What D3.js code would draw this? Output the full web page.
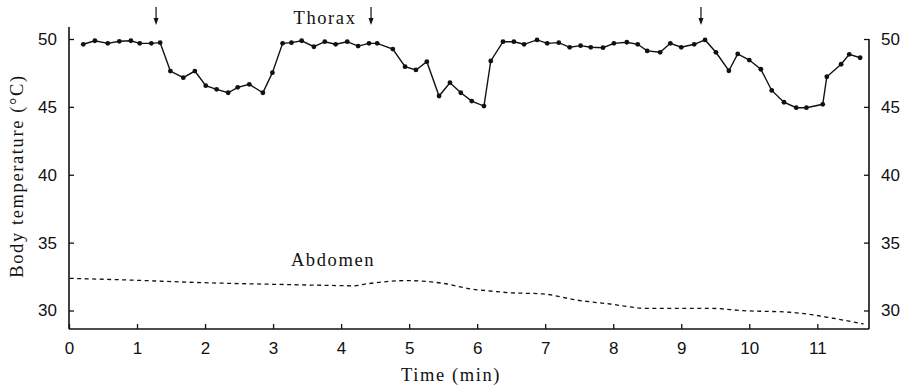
<!DOCTYPE html>
<html><head><meta charset="utf-8">
<script src="https://cdn.jsdelivr.net/npm/d3@7"></script>
<style>
body{margin:0;background:#fff;}
svg{display:block;}
.tick text{font-family:"Liberation Sans","Open Sans",sans-serif;font-size:17px;fill:#111;}
</style></head>
<body>
<svg id="c" width="905" height="387"></svg>
<script>
// ---- data ----
const thoraxTime = [0.21,0.38,0.57,0.74,0.91,1.04,1.21,1.34,1.49,1.68,1.85,2.01,2.17,2.34,2.48,2.65,2.85,2.99,3.14,3.27,3.42,3.60,3.76,3.92,4.09,4.25,4.41,4.53,4.76,4.94,5.10,5.26,5.44,5.60,5.76,5.92,6.10,6.20,6.38,6.54,6.69,6.88,7.03,7.20,7.36,7.52,7.67,7.85,8.01,8.20,8.36,8.50,8.69,8.84,9.00,9.19,9.35,9.51,9.70,9.83,10.00,10.17,10.33,10.51,10.69,10.84,11.08,11.14,11.35,11.47,11.63];
const thoraxTemp = [49.61,49.87,49.68,49.83,49.87,49.68,49.68,49.73,47.64,47.15,47.64,46.56,46.29,46.04,46.44,46.66,46.04,47.52,49.68,49.73,49.87,49.43,49.80,49.61,49.80,49.48,49.68,49.68,49.26,47.96,47.72,48.33,45.80,46.78,46.04,45.43,45.06,48.38,49.80,49.80,49.61,49.93,49.68,49.73,49.39,49.51,49.39,49.36,49.68,49.76,49.61,49.12,49.02,49.68,49.39,49.61,49.93,49.02,47.66,48.90,48.45,47.77,46.21,45.34,44.94,44.94,45.19,47.22,48.14,48.87,48.62];
const abdomenTime = [0.01,0.85,1.97,3.0,3.8,4.18,4.40,4.96,5.50,5.94,6.04,6.48,6.97,7.46,7.95,8.49,9.42,9.91,10.60,10.77,11.23,11.68];
const abdomenTemp = [32.37,32.25,32.05,31.93,31.85,31.82,31.98,32.2,32.0,31.56,31.51,31.31,31.22,30.77,30.48,30.16,30.16,29.99,29.87,29.79,29.43,29.01];
const arrowTimes = [1.28,4.44,9.29];
const xTicks = [0,1,2,3,4,5,6,7,8,9,10,11];
const yTicks = [30,35,40,45,50];
const labels = {thorax:"Thorax", abdomen:"Abdomen", xTitle:"Time (min)", yTitle:"Body temperature (°C)"};

// ---- layout ----
const svg = d3.select("#c");
const x = d3.scaleLinear().domain([0, 11.76]).range([69, 869]);
const y = d3.scaleLinear().domain([30, 50]).range([310.5, 39]);
const yBottom = 28.64, yTopLeft = 50.88;
const ink = "#111";

// axes lines
svg.append("line").attr("x1", x(0)).attr("x2", x(0)).attr("y1", y(yTopLeft)).attr("y2", y(yBottom)).attr("stroke", ink).attr("stroke-width", 1.6);
svg.append("line").attr("x1", x(11.76)).attr("x2", x(11.76)).attr("y1", y(50)).attr("y2", y(yBottom)).attr("stroke", ink).attr("stroke-width", 1.6);
svg.append("line").attr("x1", x(0)).attr("x2", x(11.76)).attr("y1", y(yBottom)).attr("y2", y(yBottom)).attr("stroke", ink).attr("stroke-width", 1.6);

const gl = svg.append("g").attr("transform", `translate(${x(0)},0)`)
  .call(d3.axisLeft(y).tickValues(yTicks).tickSizeInner(-5).tickSizeOuter(0).tickPadding(12));
const gr = svg.append("g").attr("transform", `translate(${x(11.76)},0)`)
  .call(d3.axisRight(y).tickValues(yTicks).tickSizeInner(-5).tickSizeOuter(0).tickPadding(12));
const gb = svg.append("g").attr("transform", `translate(0,${y(yBottom)})`)
  .call(d3.axisBottom(x).tickValues(xTicks).tickSizeInner(-5).tickSizeOuter(0).tickPadding(13));
[gl, gr, gb].forEach(g => {
  g.select(".domain").remove();
  g.selectAll(".tick line").attr("stroke", ink).attr("stroke-width", 1.3);
});

// thorax line
const thorax = thoraxTime.map((t, i) => [t, thoraxTemp[i]]);
svg.append("path").datum(thorax)
  .attr("d", d3.line().x(d => x(d[0])).y(d => y(d[1])))
  .attr("fill", "none").attr("stroke", ink).attr("stroke-width", 1.4);
svg.selectAll("circle.pt").data(thorax).join("circle")
  .attr("class", "pt").attr("cx", d => x(d[0])).attr("cy", d => y(d[1])).attr("r", 2.4).attr("fill", ink);

// abdomen dashed
const abd = abdomenTime.map((t, i) => [t, abdomenTemp[i]]);
svg.append("path").datum(abd)
  .attr("d", d3.line().curve(d3.curveMonotoneX).x(d => x(d[0])).y(d => y(d[1])))
  .attr("fill", "none").attr("stroke", ink).attr("stroke-width", 1.3).attr("stroke-dasharray", "4,3.5");

// arrows
arrowTimes.forEach(t => {
  const ax = x(t);
  svg.append("line").attr("x1", ax).attr("x2", ax).attr("y1", 7).attr("y2", 20).attr("stroke", ink).attr("stroke-width", 1.2);
  svg.append("path").attr("d", `M${ax-2.5},18 L${ax+2.5},18 L${ax},25 Z`).attr("fill", ink);
});

// text labels
const serif = "'Liberation Serif','Times New Roman',serif";
function label(xp, yp, txt, rot) {
  const t = svg.append("text").attr("text-anchor", "middle").attr("font-family", serif)
    .attr("font-size", 18.5).attr("letter-spacing", "1.6px").attr("fill", ink).text(txt);
  if (rot) t.attr("transform", `translate(${xp},${yp}) rotate(-90)`);
  else t.attr("x", xp).attr("y", yp);
}
label(325, 24, labels.thorax);
label(333, 266, labels.abdomen);
label(451, 381, labels.xTitle);
label(22.5, 176, labels.yTitle, true);
</script>
</body></html>
